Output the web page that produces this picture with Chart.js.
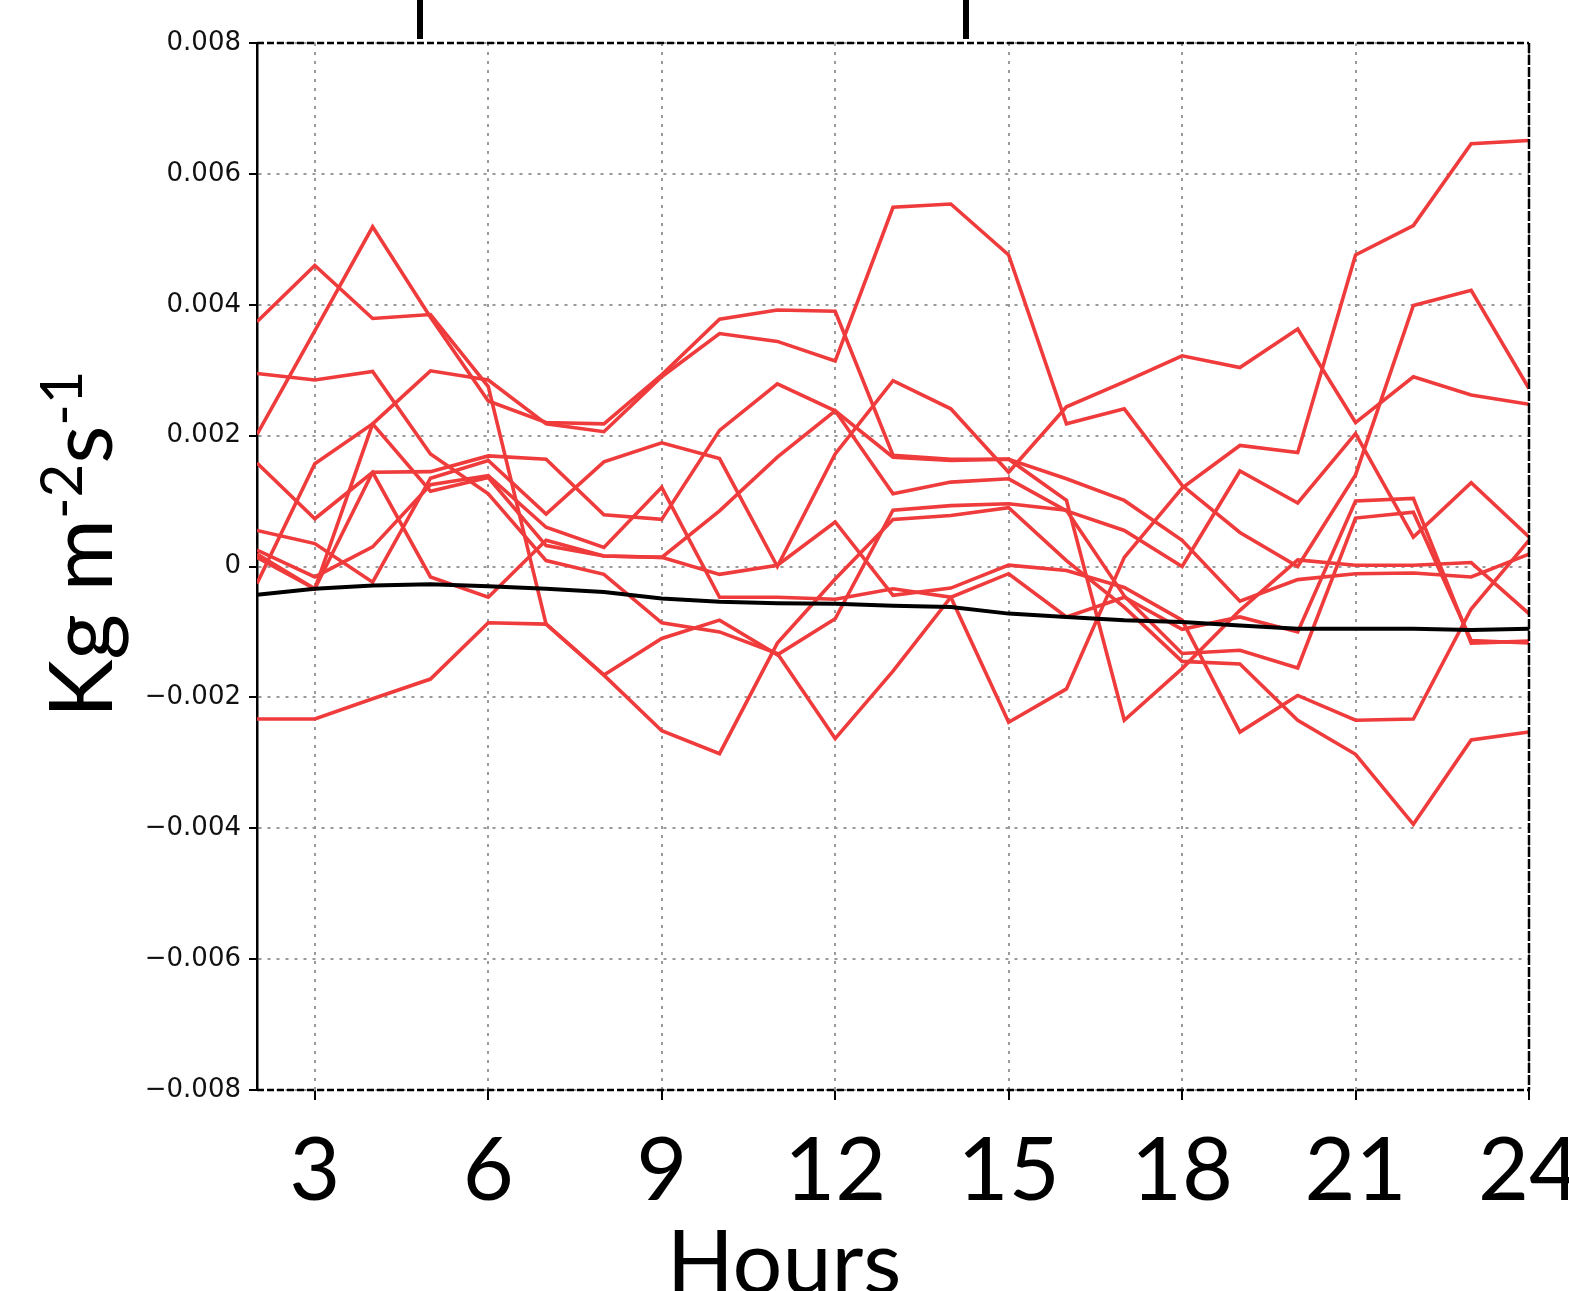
<!DOCTYPE html>
<html lang="en">
<head>
  <meta charset="UTF-8">
  <title>Hours</title>
  <script src="https://cdn.jsdelivr.net/npm/chart.js"></script>
  <style>
    html, body { margin: 0; padding: 0; background: #ffffff; }
    #wrap { width: 1569px; height: 1291px; }
  </style>
</head>
<body>
<div id="wrap"><canvas id="chart" width="1569" height="1291"></canvas></div>

<script>
  // x positions (hours) and tick labels
  const hours  = [2, 3, 4, 5, 6, 7, 8, 9, 10, 11, 12, 13, 14, 15, 16, 17, 18, 19, 20, 21, 22, 23, 24];
  const xTicks = [3, 6, 9, 12, 15, 18, 21, 24];
  // y ticks, in units of 0.001 Kg m-2 s-1
  const yTicks = [-8, -6, -4, -2, 0, 2, 4, 6, 8];

  // ensemble members (red), units of 0.001
  const memberA = [3.74, 4.60, 3.79, 3.85, 2.75, -0.88, -1.66, -2.51, -2.86, -1.17, -0.19, 0.72, 0.78, 0.90, 0.09, -0.62, -1.45, -1.49, -2.35, -2.87, -3.94, -2.65, -2.53];
  const memberB = [2.95, 2.85, 2.98, 1.72, 1.11, 0.09, -0.12, -0.86, -1.00, -1.33, -2.63, -1.60, -0.47, -0.11, -0.77, -0.47, -0.96, -0.77, -1.00, 1.00, 1.04, -1.17, -1.14];
  const memberC = [2.02, 3.60, 5.19, 3.81, 2.53, 2.20, 2.18, 2.93, 3.78, 3.92, 3.90, 1.70, 1.64, 1.64, 1.34, 1.01, 0.40, -0.53, -0.20, -0.11, -0.10, -0.16, 0.19];
  const memberD = [1.58, 0.73, 1.44, -0.16, -0.47, 0.40, 0.16, 0.14, -0.12, 0.02, 0.68, -0.44, -0.33, 0.02, -0.06, -0.32, -0.82, -2.53, -1.97, -2.35, -2.33, -0.65, 0.40];
  const memberE = [0.55, 0.35, -0.24, 1.35, 1.62, 0.80, 1.60, 1.89, 1.65, 0.00, 1.72, 2.84, 2.41, 1.44, 2.44, 2.82, 3.22, 3.04, 3.63, 2.20, 2.90, 2.62, 2.48];
  const memberF = [0.25, -0.16, 0.30, 1.25, 1.39, 0.60, 0.29, 1.21, -0.47, -0.47, -0.50, -0.34, -0.47, -2.38, -1.87, 0.14, 1.20, 1.85, 1.74, 4.76, 5.21, 6.46, 6.51];
  const memberG = [0.19, -0.34, 2.18, 2.99, 2.85, 2.18, 2.06, 2.90, 3.56, 3.44, 3.14, 5.49, 5.54, 4.76, 2.18, 2.41, 1.24, 0.52, 0.00, 1.40, 3.99, 4.22, 2.72];
  const memberH = [0.14, -0.34, 1.44, 1.45, 1.69, 1.64, 0.79, 0.72, 2.08, 2.79, 2.38, 1.67, 1.62, 1.64, 1.01, -2.35, -1.56, -0.67, 0.10, 0.02, 0.02, 0.06, -0.72];
  const memberI = [-0.26, 1.57, 2.18, 1.15, 1.36, 0.32, 0.16, 0.14, 0.85, 1.67, 2.38, 1.11, 1.29, 1.34, 0.85, 0.55, 0.00, 1.46, 0.97, 2.03, 0.45, 1.28, 0.45];
  const memberJ = [-2.33, -2.33, -2.02, -1.72, -0.86, -0.88, -1.66, -1.10, -0.82, -1.35, -0.80, 0.86, 0.93, 0.96, 0.86, -0.45, -1.33, -1.28, -1.55, 0.74, 0.83, -1.13, -1.17];

  // black reference line
  const control = [-0.43, -0.34, -0.29, -0.27, -0.30, -0.34, -0.39, -0.49, -0.54, -0.56, -0.57, -0.60, -0.62, -0.72, -0.77, -0.82, -0.85, -0.90, -0.95, -0.95, -0.95, -0.97, -0.95];

  const members = [memberA, memberB, memberC, memberD, memberE, memberF, memberG, memberH, memberI, memberJ];

  const toPoints = vals => vals.map((v, i) => ({ x: hours[i], y: v }));

  const RED = '#ef3b3b';

  // black first so it is painted on top
  const datasets = [{
    label: 'control',
    data: toPoints(control),
    borderColor: '#000000',
    borderWidth: 4,
    pointRadius: 0,
    fill: false
  }];
  members.forEach((m, i) => {
    datasets.push({
      label: 'member ' + (i + 1),
      data: toPoints(m),
      borderColor: RED,
      borderWidth: 3.6,
      pointRadius: 0,
      fill: false
    });
  });

  function fmtTick(v) {
    if (v === 0) return '0';
    const s = (Math.abs(v) / 1000).toFixed(3);
    return (v < 0 ? '\u2212' : '') + s;
  }

  // frame, axis titles and the clipped title strokes at the top
  const decorations = {
    id: 'decorations',
    afterDatasetsDraw(chart) {
      const { ctx, chartArea: a } = chart;
      ctx.save();
      ctx.strokeStyle = '#000';
      ctx.lineWidth = 2.5;
      ctx.setLineDash([7, 3]);
      ctx.beginPath();
      ctx.moveTo(a.left, a.top); ctx.lineTo(a.right, a.top);
      ctx.moveTo(a.left, a.bottom); ctx.lineTo(a.right, a.bottom);
      ctx.stroke();
      ctx.setLineDash([10, 2]);
      ctx.beginPath();
      ctx.moveTo(a.right, a.top); ctx.lineTo(a.right, a.bottom);
      ctx.stroke();
      ctx.restore();
    },
    afterDraw(chart) {
      const { ctx } = chart;
      ctx.save();
      ctx.fillStyle = '#000';

      // x title, centred on the page
      ctx.font = '88px Lato';
      ctx.textAlign = 'center';
      ctx.textBaseline = 'alphabetic';
      ctx.fillText('Hours', 784, 1293);

      // y title with superscripts, rotated
      ctx.translate(112, 718);
      ctx.rotate(-Math.PI / 2);
      ctx.textAlign = 'left';
      let x = 0;
      const parts = [
        { t: 'Kg m', f: '88px Lato', dy: 0 },
        { t: '-2', f: '58px Lato', dy: -30 },
        { t: 's', f: '88px Lato', dy: 0 },
        { t: '-1', f: '58px Lato', dy: -30 }
      ];
      parts.forEach(p => {
        ctx.font = p.f;
        ctx.fillText(p.t, x, p.dy);
        x += ctx.measureText(p.t).width;
      });
      ctx.restore();

      // descenders of the cut-off title above the chart
      ctx.save();
      ctx.fillStyle = '#000';
      ctx.fillRect(417, 0, 6, 39);
      ctx.fillRect(963, 0, 6, 39);
      ctx.restore();
    }
  };

  const ctx = document.getElementById('chart').getContext('2d');
  const chart = new Chart(ctx, {
    type: 'line',
    data: { datasets: datasets },
    options: {
      responsive: false,
      animation: false,
      devicePixelRatio: 1,
      layout: { padding: { top: 43, right: 40, bottom: 0, left: 0 } },
      plugins: {
        legend: { display: false },
        tooltip: { enabled: false },
        title: { display: false }
      },
      elements: { line: { tension: 0 } },
      scales: {
        x: {
          type: 'linear',
          min: 2,
          max: 24,
          afterBuildTicks: s => { s.ticks = xTicks.map(v => ({ value: v })); },
          afterFit: s => { s.height = 201; s.paddingLeft = 0; s.paddingRight = 0; },
          ticks: {
            color: '#000',
            font: { family: 'Lato', size: 88 },
            padding: 19,
            maxRotation: 0,
            autoSkip: false,
            callback: v => String(v)
          },
          grid: {
            color: '#9a9a9a',
            lineWidth: 2,
            tickColor: '#000',
            tickLength: 10,
            tickWidth: 2,
            drawOnChartArea: true
          },
          border: { display: false, dash: [3, 6] }
        },
        y: {
          min: -8,
          max: 8,
          afterBuildTicks: s => { s.ticks = yTicks.map(v => ({ value: v })); },
          afterFit: s => { s.width = 257; s.paddingTop = 0; s.paddingBottom = 0; },
          ticks: {
            color: '#111',
            font: { family: 'DejaVu Sans', size: 26 },
            padding: 8,
            callback: v => fmtTick(v)
          },
          grid: {
            color: '#9a9a9a',
            lineWidth: 2,
            tickColor: '#000',
            tickLength: 8,
            tickWidth: 2
          },
          border: { display: true, color: '#000', width: 2.5, dash: [3, 6] }
        }
      }
    },
    plugins: [decorations]
  });
</script>
</body>
</html>
